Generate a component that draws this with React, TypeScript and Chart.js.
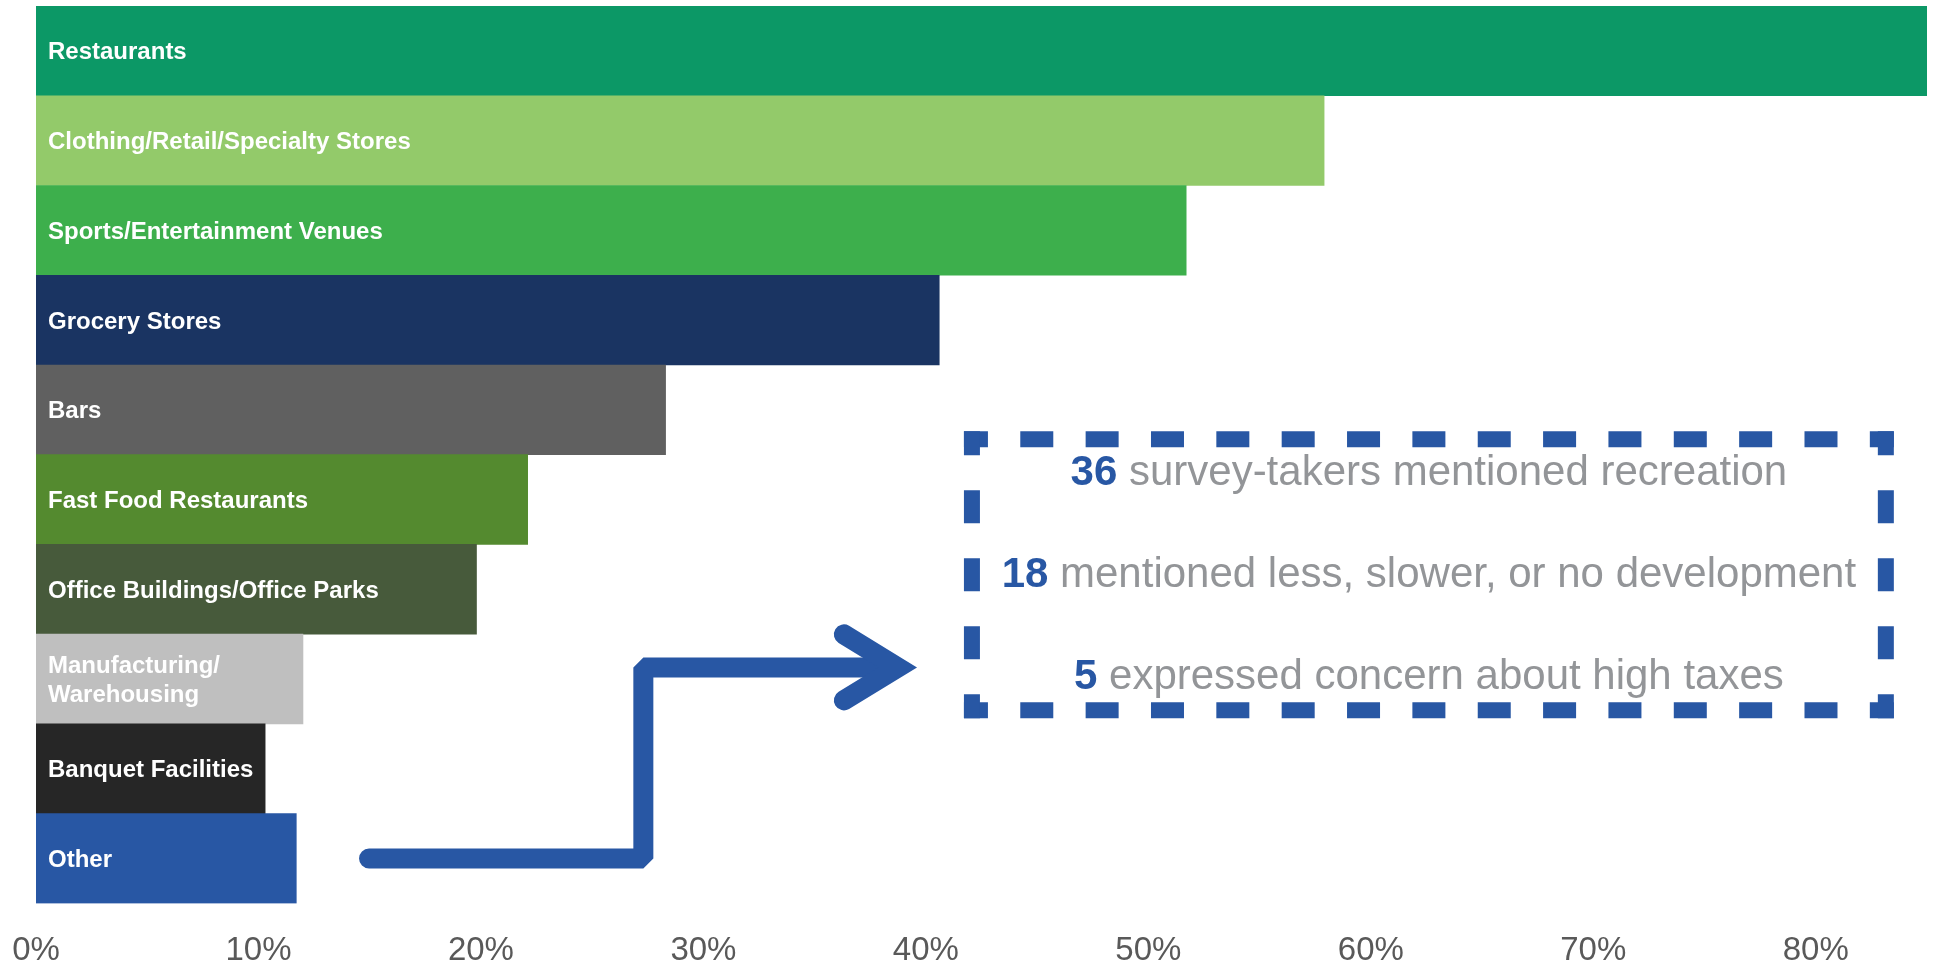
import React, { useEffect, useRef } from 'react';
import { Chart, registerables } from 'chart.js';

Chart.register(...registerables);

const categories: (string | string[])[] = [
  'Restaurants',
  'Clothing/Retail/Specialty Stores',
  'Sports/Entertainment Venues',
  'Grocery Stores',
  'Bars',
  'Fast Food Restaurants',
  'Office Buildings/Office Parks',
  ['Manufacturing/', 'Warehousing'],
  'Banquet Facilities',
  'Other',
];
const shares = [0.85, 0.579, 0.517, 0.406, 0.283, 0.221, 0.198, 0.12, 0.103, 0.117];
const barColors = [
  '#0c9866', '#93ca6a', '#3daf4c', '#1a3462', '#606060',
  '#548a2f', '#475a3b', '#bfbfbf', '#262626', '#2857a4',
];
const tickValues = [0, 0.1, 0.2, 0.3, 0.4, 0.5, 0.6, 0.7, 0.8];
const axisMax = 0.85;
const noteCounts = ['36', '18', '5'];
const noteTexts = [
  ' survey-takers mentioned recreation',
  ' mentioned less, slower, or no development',
  ' expressed concern about high taxes',
];

const FONT = '"Liberation Sans", Arial, sans-serif';
const BLUE = '#2857a4';
const NOTE_GRAY = '#939598';

// white labels written inside each bar
const barLabels = {
  id: 'barLabels',
  afterDatasetsDraw(chart: any) {
    const { ctx, chartArea } = chart;
    const meta = chart.getDatasetMeta(0);
    ctx.save();
    ctx.fillStyle = '#ffffff';
    ctx.font = `bold 24px ${FONT}`;
    ctx.textAlign = 'left';
    ctx.textBaseline = 'middle';
    meta.data.forEach((bar: any, i: number) => {
      const lab = categories[i];
      const lines = Array.isArray(lab) ? lab : [lab];
      const lh = 29;
      lines.forEach((line, k) => {
        const y = bar.y + (k - (lines.length - 1) / 2) * lh + 2;
        ctx.fillText(line, chartArea.left + 12, y);
      });
    });
    ctx.restore();
  },
};

function dashedSide(ctx: CanvasRenderingContext2D, x0: number, y0: number, x1: number, y1: number) {
  const len = Math.hypot(x1 - x0, y1 - y0);
  const corner = 24;
  const dash = 33;
  const gap0 = 33;
  const n = Math.round((len - 2 * corner - gap0) / (dash + gap0));
  const gap = (len - 2 * corner - n * dash) / (n + 1);
  const pattern: number[] = [corner];
  for (let i = 0; i < n; i++) pattern.push(gap, dash);
  pattern.push(gap, corner, 2000);
  ctx.setLineDash(pattern);
  ctx.beginPath();
  ctx.moveTo(x0, y0);
  ctx.lineTo(x1, y1);
  ctx.stroke();
}

// callout box and bent arrow
const callout = {
  id: 'callout',
  afterDraw(chart: any) {
    const { ctx } = chart;
    const xs = chart.scales.x;
    const ys = chart.scales.y;
    const px = (v: number) => xs.getPixelForValue(v);
    const py = (v: number) => ys.getPixelForValue(v);

    ctx.save();
    // arrow
    ctx.strokeStyle = BLUE;
    ctx.lineWidth = 20;
    ctx.lineCap = 'round';
    ctx.lineJoin = 'bevel';
    const ax0 = px(0.1497);
    const ax1 = px(0.273);
    const ax2 = px(0.3874);
    const ay0 = py(9);
    const ay1 = py(6.87);
    ctx.beginPath();
    ctx.moveTo(ax0, ay0);
    ctx.lineTo(ax1, ay0);
    ctx.lineTo(ax1, ay1);
    ctx.lineTo(ax2 - 20, ay1);
    ctx.stroke();
    ctx.lineJoin = 'miter';
    ctx.beginPath();
    ctx.moveTo(ax2 - 54, ay1 - 33);
    ctx.lineTo(ax2, ay1);
    ctx.lineTo(ax2 - 54, ay1 + 33);
    ctx.stroke();

    // dashed box
    const bx0 = px(0.4207);
    const bx1 = px(0.8315);
    const by0 = py(4.327);
    const by1 = py(7.348);
    const lw = 16;
    ctx.lineWidth = lw;
    ctx.lineCap = 'butt';
    dashedSide(ctx, bx0 - lw / 2, by0, bx1 + lw / 2, by0);
    dashedSide(ctx, bx0 - lw / 2, by1, bx1 + lw / 2, by1);
    dashedSide(ctx, bx0, by0 - lw / 2, bx0, by1 + lw / 2);
    dashedSide(ctx, bx1, by0 - lw / 2, bx1, by1 + lw / 2);
    ctx.setLineDash([]);

    // notes
    const cx = (bx0 + bx1) / 2;
    const cy = (by0 + by1) / 2;
    ctx.textBaseline = 'alphabetic';
    ctx.textAlign = 'left';
    noteCounts.forEach((count, k) => {
      const base = cy + 12 + (k - 1) * 102;
      ctx.font = `bold 42px ${FONT}`;
      const w1 = ctx.measureText(count).width;
      ctx.font = `42px ${FONT}`;
      const w2 = ctx.measureText(noteTexts[k]).width;
      const start = cx - (w1 + w2) / 2;
      ctx.font = `bold 42px ${FONT}`;
      ctx.fillStyle = BLUE;
      ctx.fillText(count, start, base);
      ctx.font = `42px ${FONT}`;
      ctx.fillStyle = NOTE_GRAY;
      ctx.fillText(noteTexts[k], start + w1, base);
    });
    ctx.restore();
  },
};

const App: React.FC = () => {
  const canvasRef = useRef<HTMLCanvasElement>(null);
  const chartRef = useRef<Chart | null>(null);

  useEffect(() => {
    if (!canvasRef.current) return;
    document.body.style.margin = '0';
    if (chartRef.current) chartRef.current.destroy();

    chartRef.current = new Chart(canvasRef.current, {
      type: 'bar',
      data: {
        labels: categories as any,
        datasets: [
          {
            data: shares,
            backgroundColor: barColors,
            borderWidth: 0,
            barPercentage: 1,
            categoryPercentage: 1,
          },
        ],
      },
      options: {
        indexAxis: 'y',
        responsive: true,
        maintainAspectRatio: false,
        animation: false,
        layout: { padding: { left: 36, right: 9, top: 6, bottom: 0 } },
        plugins: {
          legend: { display: false },
          tooltip: { enabled: false },
        },
        scales: {
          x: {
            min: 0,
            max: axisMax,
            grid: { display: false, drawTicks: false },
            border: { display: false },
            afterBuildTicks: (axis: any) => {
              axis.ticks = tickValues.map((value) => ({ value }));
            },
            afterFit: (axis: any) => {
              axis.paddingLeft = 0;
              axis.paddingRight = 0;
            },
            ticks: {
              padding: 28,
              autoSkip: false,
              maxRotation: 0,
              color: '#595959',
              font: { family: FONT, size: 33 },
              callback: (v: any) => `${Math.round(Number(v) * 100)}%`,
            },
          },
          y: {
            display: false,
            grid: { display: false },
          },
        },
      },
      plugins: [barLabels, callout],
    });

    return () => {
      if (chartRef.current) {
        chartRef.current.destroy();
        chartRef.current = null;
      }
    };
  }, []);

  return (
    <div style={{ position: 'fixed', left: 0, top: 0, width: 1936, height: 999, background: '#ffffff' }}>
      <canvas ref={canvasRef} />
    </div>
  );
};

export default App;
